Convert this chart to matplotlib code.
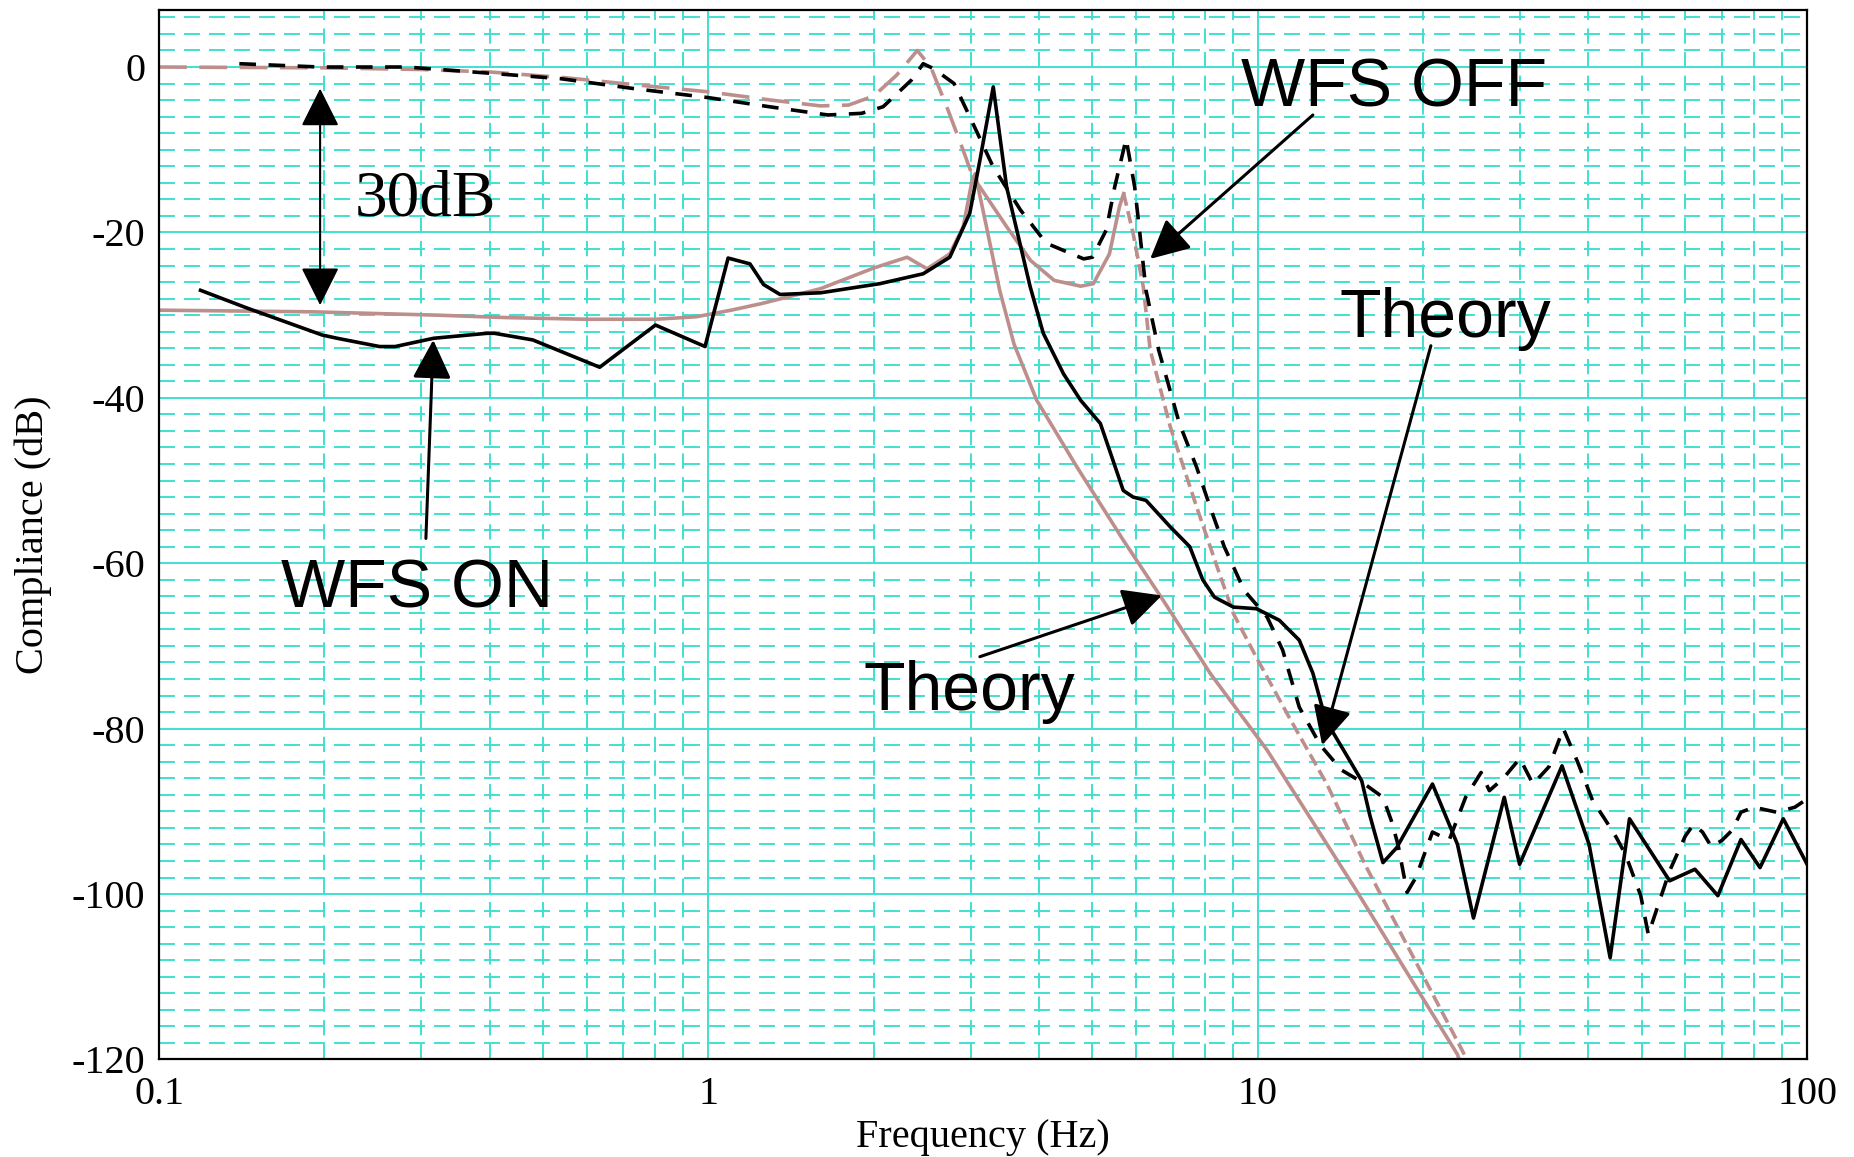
import numpy as np
import matplotlib
matplotlib.use('Agg')
import matplotlib.pyplot as plt
from matplotlib.ticker import MultipleLocator, LogLocator, FixedLocator, FixedFormatter, NullFormatter

# measured compliance, WFS on (black solid)
on_freq = [0.119, 0.144, 0.198, 0.211, 0.252, 0.269, 0.316, 0.395, 0.408, 0.479,
           0.634, 0.801, 0.986, 1.086, 1.19, 1.26, 1.35, 1.6, 2.05, 2.46,
           2.75, 2.99, 3.12, 3.30, 3.49, 3.85, 4.07, 4.43, 4.76, 5.17,
           5.37, 5.69, 5.93, 6.26, 6.93, 7.52, 7.94, 8.34, 9.03, 9.95,
           10.95, 11.9, 12.6, 13.3, 14.3, 15.46, 16.0, 16.9, 17.9, 20.8,
           23.1, 24.7, 28.1, 29.97, 35.8, 40.1, 43.8, 47.5, 56.2, 62.5,
           68.8, 75.8, 82.1, 90.5, 100]
on_db = [-27.0, -29.1, -32.4, -32.8, -33.8, -33.8, -32.8, -32.2, -32.2, -33.0,
         -36.3, -31.2, -33.8, -23.1, -23.8, -26.3, -27.5, -27.3, -26.2, -25.0,
         -23.0, -17.7, -11.3, -2.4, -14.5, -26.5, -32.2, -37.1, -40.3, -43.1,
         -46.3, -51.2, -52.0, -52.4, -55.6, -58.0, -62.0, -64.1, -65.3, -65.5,
         -66.9, -69.3, -73.3, -79.0, -82.5, -86.3, -90.5, -96.2, -94.4, -86.7,
         -94.0, -102.9, -88.3, -96.4, -84.5, -94.0, -107.7, -90.9, -98.4, -97.0,
         -100.2, -93.4, -96.8, -90.9, -96.4]

# measured compliance, WFS off (black dashed)
off_freq = [0.14, 0.196, 0.282, 0.373, 0.537, 0.73, 1.0, 1.29, 1.65, 1.9,
            2.08, 2.34, 2.46, 2.57, 2.8, 2.99, 3.3, 3.7, 4.12, 4.82,
            5.0, 5.3, 5.49, 5.76, 5.97, 6.1, 6.26, 6.6, 7.2, 7.74,
            8.19, 8.69, 9.45, 10.4, 11.1, 11.9, 13.0, 14.2, 15.5, 16.9,
            17.5, 18.0, 18.7, 19.4, 20.1, 20.8, 22.3, 23.9, 25.5, 26.4,
            28.0, 30.0, 31.7, 33.9, 36.0, 38.2, 40.7, 42.8, 44.9, 46.7,
            49.8, 51.4, 53.4, 56.2, 60.0, 62.1, 64.5, 67.0, 70.0, 73.0,
            75.8, 80.0, 88.0, 95.0, 100]
off_db = [0.4, 0.0, 0.0, -0.6, -1.4, -2.6, -3.7, -4.8, -5.8, -5.6,
          -4.8, -1.6, 0.4, -0.2, -2.0, -6.0, -12.1, -17.3, -21.3, -23.2,
          -23.0, -19.7, -14.5, -8.7, -14.5, -20.1, -27.0, -34.2, -43.1, -48.4,
          -53.2, -58.0, -63.3, -66.5, -70.5, -77.4, -82.0, -85.0, -86.5, -88.3,
          -91.1, -94.0, -99.8, -98.0, -95.2, -92.5, -93.5, -88.3, -85.3, -87.5,
          -86.0, -83.6, -86.7, -84.6, -80.0, -84.0, -88.7, -90.9, -93.1, -95.2,
          -100.2, -104.9, -101.6, -97.2, -93.0, -91.6, -92.5, -94.3, -93.5, -92.3,
          -90.1, -89.5, -90.1, -89.5, -88.5]

# theory, WFS on (grey solid)
on_theory_freq = [0.1, 0.19, 0.32, 0.43, 0.6, 0.8, 0.95, 1.1, 1.25, 1.6,
                  2.0, 2.3, 2.5, 2.75, 2.91, 3.02, 3.06, 3.2, 3.39, 3.6,
                  3.96, 4.68, 5.69, 6.73, 8.19, 10.4, 15.0, 23.1, 23.4]
on_theory_db = [-29.4, -29.6, -30.0, -30.3, -30.5, -30.5, -30.2, -29.4, -28.6, -26.8,
                -24.3, -23.0, -24.4, -22.6, -19.3, -13.7, -12.9, -19.0, -27.0, -33.5,
                -40.3, -48.3, -57.2, -64.5, -73.3, -82.6, -99.2, -119.4, -120.5]

# theory, WFS off (grey dashed)
off_theory_freq = [0.1, 0.2, 0.3, 0.4, 0.55, 0.75, 1.0, 1.3, 1.6, 1.8,
                   2.0, 2.2, 2.4, 2.54, 2.73, 2.91, 3.03, 3.12, 3.49, 3.86,
                   4.26, 4.76, 5.02, 5.37, 5.6, 5.7, 5.93, 6.19, 6.37, 6.93,
                   7.74, 8.43, 9.03, 10.0, 11.4, 13.36, 15.67, 18.4, 23.6, 24.2]
off_theory_db = [0.0, -0.1, -0.3, -0.6, -1.3, -2.2, -3.0, -4.0, -4.7, -4.6,
                 -3.5, -1.0, 2.0, 0.0, -5.2, -10.1, -13.3, -14.5, -19.3, -23.4,
                 -25.8, -26.5, -26.2, -22.6, -16.9, -15.3, -20.1, -26.6, -34.2, -43.5,
                 -53.2, -60.4, -66.1, -71.7, -78.6, -86.7, -96.4, -105.3, -119.0, -120.5]

xtick_vals = [0.1, 1, 10, 100]
xtick_labels = ['0.1', '1', '10', '100']
ytick_vals = [0, -20, -40, -60, -80, -100, -120]
ytick_labels = ['0', '-20', '-40', '-60', '-80', '-100', '-120']

GRID = '#40e0d0'
THEORY = '#bc8f8c'
SERIF = ['Liberation Serif', 'DejaVu Serif']
SANS = ['Liberation Sans', 'DejaVu Sans']
LW = 2.6

plt.rcParams['lines.scale_dashes'] = False

fig = plt.figure(figsize=(18.54, 11.57), dpi=100)
ax = fig.add_axes([0.0858, 0.0843, 0.8889, 0.9071])
ax.set_xscale('log')
ax.set_xlim(0.1, 100)
ax.set_ylim(-120, 6.9)

# grid: solid at decades / 20 dB, dashed minor lines
ax.xaxis.set_major_locator(FixedLocator(xtick_vals))
ax.xaxis.set_major_formatter(FixedFormatter(xtick_labels))
ax.xaxis.set_minor_locator(LogLocator(base=10, subs=np.arange(2, 10)))
ax.xaxis.set_minor_formatter(NullFormatter())
ax.yaxis.set_major_locator(FixedLocator(ytick_vals))
ax.yaxis.set_major_formatter(FixedFormatter(ytick_labels))
ax.yaxis.set_minor_locator(MultipleLocator(2))
ax.set_axisbelow(True)
ax.grid(which='major', color=GRID, lw=1.4, ls='-')
ax.xaxis.grid(which='minor', color=GRID, lw=1.4, ls=(0, (11, 6)))
ax.yaxis.grid(which='minor', color=GRID, lw=1.4, ls=(0, (11.5, 6.5)))
ax.tick_params(which='both', length=0)
ax.tick_params(axis='y', pad=10, labelsize=29)
ax.tick_params(axis='x', pad=12, labelsize=29)
for lab in ax.get_xticklabels() + ax.get_yticklabels():
    lab.set_family(SERIF)
for sp in ax.spines.values():
    sp.set_linewidth(1.6)

# theory curves
f_th = np.array(off_theory_freq)
d_th = np.array(off_theory_db)
ax.plot(on_theory_freq, on_theory_db, color=THEORY, lw=LW)
lo = f_th <= 3.03
mid = (f_th >= 3.03) & (f_th <= 5.7)
hi = f_th >= 5.7
ax.plot(f_th[lo], d_th[lo], color=THEORY, lw=LW, ls=(0, (20, 9)))
ax.plot(f_th[mid], d_th[mid], color=THEORY, lw=LW)
ax.plot(f_th[hi], d_th[hi], color=THEORY, lw=LW, ls=(0, (9, 4)))

# measurements
ax.plot(off_freq, off_db, color='black', lw=LW, ls=(0, (12, 9)))
ax.plot(on_freq, on_db, color='black', lw=LW)

# annotations
head = dict(arrowstyle='-|>,head_length=0.8,head_width=0.4', mutation_scale=30,
            color='black', lw=2.2, shrinkA=0, shrinkB=0)
ax.annotate('', xy=(0.1964, -2.6), xytext=(0.1964, -28.8),
            arrowprops=dict(head, arrowstyle='<|-|>,head_length=0.8,head_width=0.4', lw=1.5))
ax.text(0.2274, -17.9, '30dB', family=SERIF, fontsize=47, ha='left', va='baseline')

ax.annotate('', xy=(0.3156, -33.0), xytext=(0.306, -57.0), arrowprops=head)
ax.text(0.1667, -65.3, 'WFS ON', family=SANS, fontsize=49, ha='left', va='baseline')

ax.annotate('', xy=(6.37, -23.2), xytext=(12.6, -5.8), arrowprops=head)
ax.text(9.33, -4.75, 'WFS OFF', family=SANS, fontsize=49, ha='left', va='baseline')

ax.annotate('', xy=(13.1, -82.0), xytext=(20.66, -33.7), arrowprops=head)
ax.text(14.1, -32.7, 'Theory', family=SANS, fontsize=49, ha='left', va='baseline')

ax.annotate('', xy=(6.69, -63.9), xytext=(3.12, -71.3), arrowprops=head)
ax.text(1.912, -77.7, 'Theory', family=SANS, fontsize=49, ha='left', va='baseline')

ax.set_xlabel('Frequency (Hz)', family=SERIF, fontsize=29, labelpad=4)
ax.set_ylabel('Compliance (dB)', family=SERIF, fontsize=29, labelpad=14)

fig.savefig('out.png', dpi=100)
